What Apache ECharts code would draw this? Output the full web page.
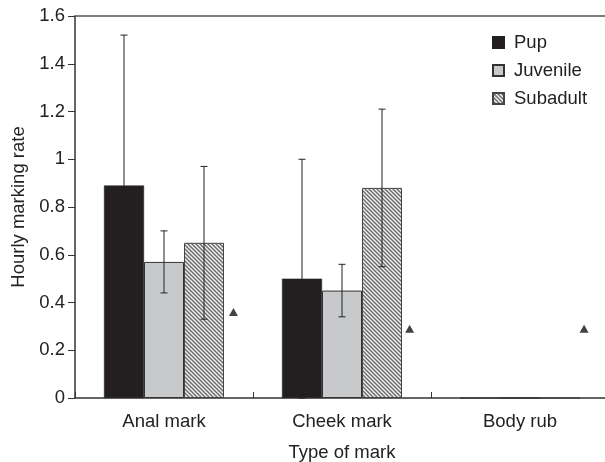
<!DOCTYPE html>
<html>
<head>
<meta charset="utf-8">
<script src="https://cdn.jsdelivr.net/npm/echarts@6/dist/echarts.min.js"></script>
<style>html,body{margin:0;padding:0;background:#fff}#c{width:605px;height:462px}</style>
</head>
<body>
<div id="c"></div>
<script>
// ---- data ----
const categories = ['Anal mark', 'Cheek mark', 'Body rub'];
const seriesNames = ['Pup', 'Juvenile', 'Subadult'];
const pupValues = [0.89, 0.50, 0];
const juvenileValues = [0.57, 0.45, 0];
const subadultValues = [0.65, 0.88, 0];
// error bars [low, high]; null = none
const pupErr = [[0.26, 1.52], [0.00, 1.00], null];
const juvenileErr = [[0.44, 0.70], [0.34, 0.56], null];
const subadultErr = [[0.33, 0.97], [0.55, 1.21], null];
// triangle markers [x position in category units, value]
const triangleMarks = [[0.89, 0.36], [1.88, 0.29], [2.86, 0.29]];
const yTicks = [0, 0.2, 0.4, 0.6, 0.8, 1, 1.2, 1.4, 1.6];

// ---- hatch pattern ----
function hatch() {
  const s = 4;
  const cv = document.createElement('canvas');
  cv.width = s; cv.height = s;
  const ctx = cv.getContext('2d');
  ctx.fillStyle = '#f2f2f2';
  ctx.fillRect(0, 0, s, s);
  ctx.strokeStyle = '#6a6a6a';
  ctx.lineWidth = 1.4;
  ctx.beginPath();
  ctx.moveTo(-1, -1); ctx.lineTo(s + 1, s + 1);
  ctx.moveTo(-1, s - 1); ctx.lineTo(1, s + 1);
  ctx.moveTo(s - 1, -1); ctx.lineTo(s + 1, 1);
  ctx.stroke();
  return cv;
}
const hatchPattern = { image: hatch(), repeat: 'repeat' };

const FONT = 'Liberation Sans';
const FS = 18.5;
const BARFRAC = 40 / 178;

function errSeries(name, idx, errs, color) {
  return {
    type: 'custom',
    name: name + ' err',
    xAxisIndex: 0, yAxisIndex: 0,
    z: 5,
    silent: true,
    data: errs.map((e, i) => e ? [i, e[0], e[1]] : [i, null, null]),
    renderItem: function (params, api) {
      const lo = api.value(1), hi = api.value(2);
      if (lo == null || isNaN(lo)) return;
      const cat = api.value(0);
      const bw = api.size([1, 0])[0] * BARFRAC;
      const p1 = api.coord([cat, hi]);
      const p2 = api.coord([cat, lo]);
      const x = p1[0] + (idx - 1) * bw;
      const cap = 3.5;
      const st = { stroke: color, lineWidth: 1 };
      return {
        type: 'group',
        children: [
          { type: 'line', shape: { x1: x, y1: p1[1], x2: x, y2: p2[1] }, style: st },
          { type: 'line', shape: { x1: x - cap, y1: p1[1], x2: x + cap, y2: p1[1] }, style: st },
          { type: 'line', shape: { x1: x - cap, y1: p2[1], x2: x + cap, y2: p2[1] }, style: st }
        ]
      };
    }
  };
}

const chart = echarts.init(document.getElementById('c'), null, { renderer: 'canvas' });
chart.setOption({
  animation: false,
  backgroundColor: '#fff',
  textStyle: { fontFamily: FONT },
  grid: { left: 75, right: -4, top: 16, bottom: 64, containLabel: false, outerBoundsMode: 'none' },
  legend: {
    orient: 'vertical',
    left: 487, top: 28,
    icon: 'rect',
    itemWidth: 11, itemHeight: 11, itemGap: 9,
    data: seriesNames,
    textStyle: { fontFamily: FONT, fontSize: FS, color: '#222', padding: [0, 0, 0, 5] }
  },
  xAxis: [
    {
      type: 'category', data: categories, position: 'bottom',
      name: 'Type of mark', nameLocation: 'middle', nameGap: 45,
      nameTextStyle: { fontFamily: FONT, fontSize: FS, color: '#222' },
      axisLine: { lineStyle: { color: '#333', width: 1.5 } },
      axisTick: { show: true, inside: true, length: 6, alignWithLabel: false, lineStyle: { color: '#333' } },
      axisLabel: { fontFamily: FONT, fontSize: FS, color: '#222', margin: 14 }
    },
    {
      type: 'category', data: categories, position: 'top',
      axisLine: { show: true, lineStyle: { color: '#555', width: 1.5 } },
      axisTick: { show: false }, axisLabel: { show: false }
    },
    {
      type: 'value', min: 0, max: 3, show: false, position: 'bottom'
    }
  ],
  yAxis: {
    type: 'value', min: 0, max: 1.6, interval: 0.2,
    name: 'Hourly marking rate', nameLocation: 'middle', nameGap: 46,
    nameTextStyle: { fontFamily: FONT, fontSize: FS, color: '#222' },
    axisLine: { show: true, lineStyle: { color: '#333', width: 1.5 } },
    axisTick: { show: true, length: 7, lineStyle: { color: '#333' } },
    splitLine: { show: false },
    axisLabel: {
      fontFamily: FONT, fontSize: FS, color: '#222', margin: 10,
      formatter: v => { const t = yTicks.find(x => Math.abs(x - v) < 1e-9); return t === undefined ? '' : String(t); }
    }
  },
  series: [
    {
      name: 'Pup', type: 'bar', data: pupValues, barWidth: 40, barGap: '0%', barCategoryGap: '32.6%',
      itemStyle: { color: '#231f20', borderColor: '#231f20', borderWidth: 0.5 }
    },
    {
      name: 'Juvenile', type: 'bar', data: juvenileValues, barWidth: 40, barGap: '0%',
      itemStyle: { color: '#c8c9cb', borderColor: '#333', borderWidth: 1 }
    },
    {
      name: 'Subadult', type: 'bar', data: subadultValues, barWidth: 40, barGap: '0%',
      itemStyle: { color: hatchPattern, borderColor: '#444', borderWidth: 1 }
    },
    errSeries('Pup', 0, pupErr, '#231f20'),
    errSeries('Juvenile', 1, juvenileErr, '#222'),
    errSeries('Subadult', 2, subadultErr, '#222'),
    {
      name: 'marks', type: 'scatter', xAxisIndex: 2, yAxisIndex: 0,
      data: triangleMarks, symbol: 'triangle', symbolSize: [9, 8],
      itemStyle: { color: '#111' }, z: 6
    }
  ]
});
</script>
</body>
</html>
